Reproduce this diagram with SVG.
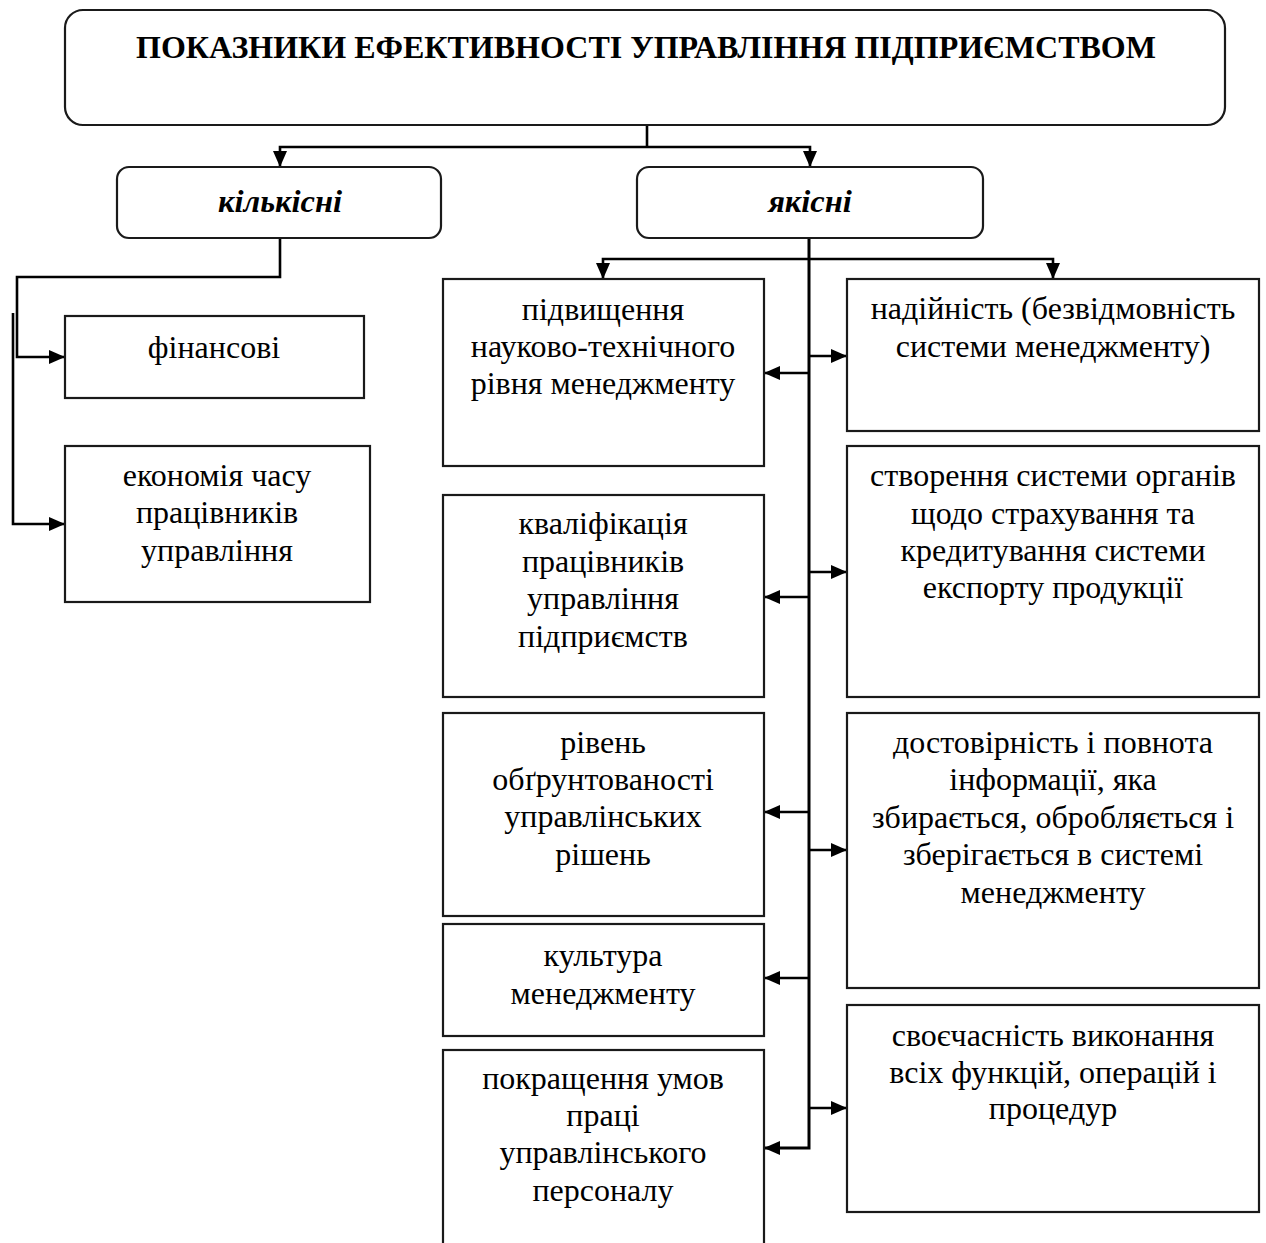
<svg xmlns="http://www.w3.org/2000/svg" width="1266" height="1243" viewBox="0 0 1266 1243">
<defs>
<style>
.box{fill:#fff;stroke:#1a1a1a;stroke-width:2.2}
.t{font-family:"Liberation Serif","Times New Roman",serif;font-size:32px;fill:#000;text-anchor:middle}
.title{font-family:"Liberation Serif","Times New Roman",serif;font-size:32px;font-weight:bold;fill:#000;text-anchor:middle}
.cat{font-family:"Liberation Serif","Times New Roman",serif;font-size:32.5px;font-weight:bold;font-style:italic;fill:#000;text-anchor:middle}
.c{fill:none;stroke:#000;stroke-width:2.6}
.arr{marker-end:url(#ah)}
</style>
<marker id="ah" viewBox="0 0 16 14" refX="16" refY="7" markerWidth="16" markerHeight="14" markerUnits="userSpaceOnUse" orient="auto">
<path d="M0,0 L16,7 L0,14 z" fill="#000"/>
</marker>
</defs>
<rect width="1266" height="1243" fill="#fff"/>

<g id="connectors">
<path class="c" d="M647,125 V147"/>
<path class="c arr" d="M647,147 H280 V167"/>
<path class="c arr" d="M647,147 H810 V167"/>
<path class="c arr" d="M280,238 V277 H17 V357 H65"/>
<path class="c arr" d="M13,313 V524 H65"/>
<path class="c arr" d="M809,238 V1148 H764" style="stroke-width:3"/>
<path class="c arr" d="M809,259 H603 V279"/>
<path class="c arr" d="M809,259 H1053 V279"/>
<path class="c arr" d="M809,373 H764"/>
<path class="c arr" d="M809,597 H764"/>
<path class="c arr" d="M809,812 H764"/>
<path class="c arr" d="M809,978 H764"/>
<path class="c arr" d="M809,356 H847"/>
<path class="c arr" d="M809,572 H847"/>
<path class="c arr" d="M809,850 H847"/>
<path class="c arr" d="M809,1108 H847"/>
</g>

<g id="root">
<rect class="box" x="65" y="10" width="1160" height="115" rx="18"/>
<text class="title" x="646" y="58">ПОКАЗНИКИ ЕФЕКТИВНОСТІ УПРАВЛІННЯ ПІДПРИЄМСТВОМ</text>
</g>

<g id="kilkisni">
<rect class="box" x="117" y="167" width="324" height="71" rx="12"/>
<text class="cat" x="280" y="212">кількісні</text>
</g>

<g id="yakisni">
<rect class="box" x="637" y="167" width="346" height="71" rx="12"/>
<text class="cat" x="810" y="212">якісні</text>
</g>

<g id="finansovi">
<rect class="box" x="65" y="316" width="299" height="82"/>
<text class="t" x="214" y="358">фінансові</text>
</g>

<g id="ekonomiya">
<rect class="box" x="65" y="446" width="305" height="156"/>
<text class="t" x="217" y="486">економія часу</text>
<text class="t" x="217" y="523">працівників</text>
<text class="t" x="217" y="561">управління</text>
</g>

<g id="b1">
<rect class="box" x="443" y="279" width="321" height="187"/>
<text class="t" x="603" y="320">підвищення</text>
<text class="t" x="603" y="357">науково-технічного</text>
<text class="t" x="603" y="394">рівня менеджменту</text>
</g>

<g id="b2">
<rect class="box" x="443" y="495" width="321" height="202"/>
<text class="t" x="603" y="534">кваліфікація</text>
<text class="t" x="603" y="572">працівників</text>
<text class="t" x="603" y="609">управління</text>
<text class="t" x="603" y="647">підприємств</text>
</g>

<g id="b3">
<rect class="box" x="443" y="713" width="321" height="203"/>
<text class="t" x="603" y="753">рівень</text>
<text class="t" x="603" y="790">обґрунтованості</text>
<text class="t" x="603" y="827">управлінських</text>
<text class="t" x="603" y="865">рішень</text>
</g>

<g id="b4">
<rect class="box" x="443" y="924" width="321" height="112"/>
<text class="t" x="603" y="966">культура</text>
<text class="t" x="603" y="1004">менеджменту</text>
</g>

<g id="b5">
<rect class="box" x="443" y="1050" width="321" height="220"/>
<text class="t" x="603" y="1089">покращення умов</text>
<text class="t" x="603" y="1126">праці</text>
<text class="t" x="603" y="1163">управлінського</text>
<text class="t" x="603" y="1201">персоналу</text>
</g>

<g id="r1">
<rect class="box" x="847" y="279" width="412" height="152"/>
<text class="t" x="1053" y="319">надійність (безвідмовність</text>
<text class="t" x="1053" y="357">системи менеджменту)</text>
</g>

<g id="r2">
<rect class="box" x="847" y="446" width="412" height="251"/>
<text class="t" x="1053" y="486">створення системи органів</text>
<text class="t" x="1053" y="524">щодо страхування та</text>
<text class="t" x="1053" y="561">кредитування системи</text>
<text class="t" x="1053" y="598">експорту продукції</text>
</g>

<g id="r3">
<rect class="box" x="847" y="713" width="412" height="275"/>
<text class="t" x="1053" y="753">достовірність і повнота</text>
<text class="t" x="1053" y="790">інформації, яка</text>
<text class="t" x="1053" y="828">збирається, обробляється і</text>
<text class="t" x="1053" y="865">зберігається в системі</text>
<text class="t" x="1053" y="903">менеджменту</text>
</g>

<g id="r4">
<rect class="box" x="847" y="1005" width="412" height="207"/>
<text class="t" x="1053" y="1046">своєчасність виконання</text>
<text class="t" x="1053" y="1083">всіх функцій, операцій і</text>
<text class="t" x="1053" y="1119">процедур</text>
</g>
</svg>
